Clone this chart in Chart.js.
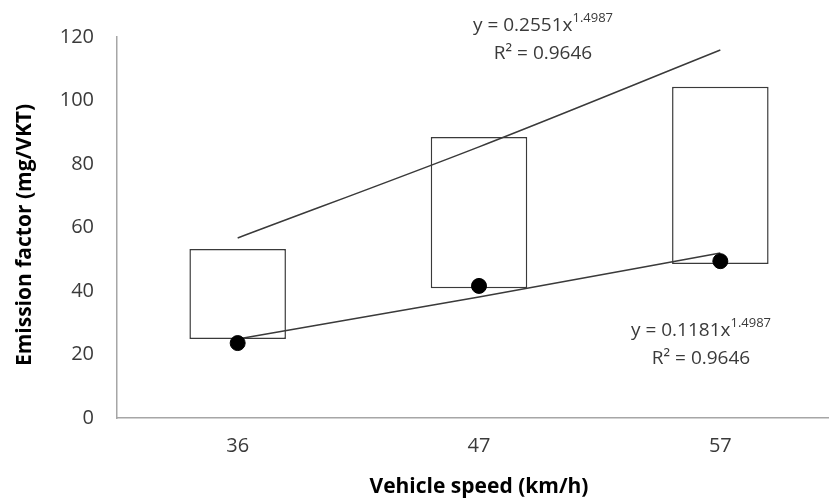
<!DOCTYPE html>
<html>
<head>
<meta charset="utf-8">
<script src="https://cdn.jsdelivr.net/npm/chart.js@4/dist/chart.umd.min.js"></script>
<style>
  html, body { margin: 0; padding: 0; background: #fff; overflow: hidden; }
  #wrap { width: 860px; height: 499px; position: relative; }
</style>
</head>
<body>
<div id="wrap"><canvas id="chart"></canvas></div>
<script>
// data
const speeds = ["36", "47", "57"];
const boxLow = [24.9, 40.9, 48.5];
const boxHigh = [53.2, 88.5, 104.3];
const points = [23.6, 41.6, 49.4];
const upperFit = [56.7, 85.4, 115.9];
const lowerFit = [24.9, 38.1, 52.0];
const yTicks = [0, 20, 40, 60, 80, 100, 120];

const upperEq = { text: "y = 0.2551x", sup: "1.4987", r2: "R² = 0.9646" };
const lowerEq = { text: "y = 0.1181x", sup: "1.4987", r2: "R² = 0.9646" };
const yTitle = "Emission factor (mg/VKT)";

const ink = "#3a3a3a";
const font = "'Open Sans', sans-serif";

// Trend line equations (with superscript) and the y axis title
const extraText = {
  id: "extraText",
  afterDraw(chart) {
    const c = chart.ctx;
    const put = (eq, cx, cy) => {
      c.save();
      c.fillStyle = ink;
      c.textBaseline = "middle";
      c.font = "19px " + font;
      const w1 = c.measureText(eq.text).width;
      c.font = "13px " + font;
      const w2 = c.measureText(eq.sup).width;
      let x = cx - (w1 + w2) / 2;
      c.textAlign = "left";
      c.font = "19px " + font;
      c.fillText(eq.text, x, cy);
      c.font = "13px " + font;
      c.fillText(eq.sup, x + w1, cy - 8);
      c.font = "19px " + font;
      c.textAlign = "center";
      c.fillText(eq.r2, cx, cy + 28);
      c.restore();
    };
    put(upperEq, 543, 26);
    put(lowerEq, 701, 331);

    c.save();
    c.translate(25, 235);
    c.rotate(-Math.PI / 2);
    c.fillStyle = "#000";
    c.font = "bold 21px " + font;
    c.textAlign = "center";
    c.textBaseline = "middle";
    c.fillText(yTitle, 0, 0);
    c.restore();
  }
};

const ctx = document.getElementById("chart").getContext("2d");

new Chart(ctx, {
  data: {
    labels: speeds,
    datasets: [
      {
        type: "line",
        data: points,
        showLine: false,
        pointRadius: 7.5,
        pointBackgroundColor: "#000",
        pointBorderColor: "#000",
        order: 0
      },
      {
        type: "line",
        data: upperFit,
        borderColor: ink,
        borderWidth: 1.5,
        pointRadius: 0,
        cubicInterpolationMode: "monotone",
        order: 1
      },
      {
        type: "line",
        data: lowerFit,
        borderColor: ink,
        borderWidth: 1.5,
        pointRadius: 0,
        cubicInterpolationMode: "monotone",
        order: 1
      },
      {
        type: "bar",
        data: speeds.map((s, i) => [boxLow[i], boxHigh[i]]),
        backgroundColor: "#fff",
        borderColor: ink,
        borderWidth: 1.5,
        borderSkipped: false,
        categoryPercentage: 1,
        barPercentage: 0.4,
        order: 2
      }
    ]
  },
  options: {
    responsive: true,
    maintainAspectRatio: false,
    animation: false,
    layout: { padding: { top: 37, right: 19, bottom: 0, left: 0 } },
    plugins: {
      legend: { display: false },
      tooltip: { enabled: false }
    },
    scales: {
      x: {
        type: "category",
        offset: true,
        grid: { display: false, drawTicks: false },
        border: { color: "#a6a6a6", width: 1.5 },
        ticks: { color: ink, font: { family: font, size: 20 }, padding: 16 },
        title: {
          display: true,
          text: "Vehicle speed (km/h)",
          color: "#000",
          font: { family: font, size: 21, weight: "bold", lineHeight: 1 },
          padding: { top: 0, bottom: 1 }
        },
        afterFit(scale) { scale.height = 81; }
      },
      y: {
        min: 0,
        max: 120,
        afterBuildTicks(scale) { scale.ticks = yTicks.map(v => ({ value: v })); },
        grid: { display: false, drawTicks: false },
        border: { color: "#a6a6a6", width: 1.5 },
        ticks: { color: ink, font: { family: font, size: 20 }, padding: 23 },
        afterFit(scale) { scale.width = 117; }
      }
    }
  },
  plugins: [extraText]
});
</script>
</body>
</html>
